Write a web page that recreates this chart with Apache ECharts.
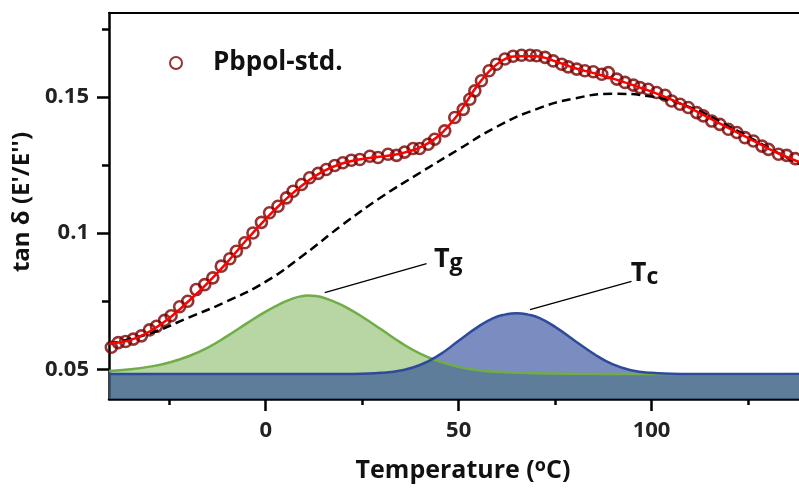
<!DOCTYPE html>
<html>
<head>
<meta charset="utf-8">
<script src="https://cdn.jsdelivr.net/npm/echarts@6/dist/echarts.min.js"></script>
<style>
  html, body { margin: 0; padding: 0; background: #fff; }
  #chart { width: 799px; height: 489px; }
</style>
</head>
<body>
<div id="chart"></div>
<script>
// measured points (tan delta vs temperature)
var scatterT = [-40.0, -38.2, -36.3, -34.3, -32.2, -30.1, -28.3, -26.2, -24.5, -22.3, -20.2, -18.0, -15.8, -13.7, -11.5, -9.3, -7.6, -5.4, -3.3, -1.1,
  1.0, 3.2, 5.4, 7.1, 9.3, 11.4, 13.6, 15.7, 17.9, 20.0, 22.2, 24.4, 27.0, 29.1, 31.7, 33.9, 36.0, 38.2, 39.9, 42.1,
  43.8, 46.4, 49.0, 51.2, 52.9, 54.2, 55.9, 57.9, 59.8, 62.0, 64.1, 66.3, 68.5, 70.2, 72.4, 74.5, 76.7, 78.4, 80.6, 82.7,
  84.9, 87.1, 88.8, 91.0, 93.1, 95.3, 97.0, 99.1, 101.3, 103.5, 105.2, 107.4, 109.5, 111.7, 113.4, 115.6, 117.7, 119.9, 122.1, 124.2,
  126.4, 128.6, 130.3, 132.9, 135.0, 137.2];
var scatterTan = [0.0581, 0.0598, 0.0602, 0.0611, 0.0623, 0.0645, 0.0658, 0.0680, 0.0697, 0.0730, 0.0750, 0.0793, 0.0811, 0.0836, 0.0879, 0.0906, 0.0934, 0.0965, 0.1001, 0.1040,
  0.1075, 0.1099, 0.1130, 0.1154, 0.1179, 0.1204, 0.1220, 0.1234, 0.1249, 0.1259, 0.1268, 0.1271, 0.1283, 0.1278, 0.1290, 0.1286, 0.1298, 0.1311, 0.1311, 0.1327,
  0.1345, 0.1376, 0.1425, 0.1455, 0.1492, 0.1523, 0.1560, 0.1597, 0.1621, 0.1640, 0.1650, 0.1654, 0.1654, 0.1652, 0.1646, 0.1633, 0.1621, 0.1611, 0.1603, 0.1597,
  0.1593, 0.1584, 0.1590, 0.1566, 0.1554, 0.1544, 0.1535, 0.1529, 0.1517, 0.1507, 0.1486, 0.1474, 0.1462, 0.1443, 0.1431, 0.1412, 0.1400, 0.1382, 0.1370, 0.1351,
  0.1339, 0.1320, 0.1308, 0.1290, 0.1286, 0.1274];

// fit curve
var fitT = [-40.6, -35, -30, -25, -20, -15, -10, -5, 0, 5, 10, 15, 20, 25, 30, 35, 40, 45, 50, 55, 60, 65, 70, 75, 80, 85, 90, 95, 100, 105, 110, 115, 120, 125, 130, 135, 138.2];
var fitTan = [0.0594, 0.0608, 0.0640, 0.0688, 0.0750, 0.0818, 0.0893, 0.0975, 0.1052, 0.1122, 0.1182, 0.1228, 0.1257, 0.1273, 0.1282, 0.1293, 0.1315, 0.1360, 0.1440, 0.1545,
  0.1622, 0.1650, 0.1650, 0.1632, 0.1607, 0.1588, 0.1568, 0.1545, 0.1520, 0.1492, 0.1460, 0.1423, 0.1386, 0.1350, 0.1313, 0.1280, 0.1262];

// broad background component (dashed)
var baseT = [-40.6, -30, -20, -10, 0, 10, 20, 30, 40, 50, 60, 70, 80, 90, 100, 110, 120, 130, 138.2];
var baseTan = [0.0594, 0.0632, 0.0690, 0.0750, 0.0822, 0.0922, 0.1032, 0.1133, 0.1222, 0.1308, 0.1392, 0.1455, 0.1495, 0.1512, 0.1502, 0.1462, 0.1393, 0.1316, 0.1254];

// Tg peak
var tgT = [-40.6, -35, -30, -25, -20, -15, -10, -5, 0, 4, 7, 9, 11, 13, 15, 18, 21, 25, 30, 35, 40, 45, 50, 55, 60, 70, 80, 100, 138.2];
var tgTan = [0.0494, 0.0500, 0.0510, 0.0525, 0.0548, 0.0580, 0.0622, 0.0668, 0.0712, 0.0742, 0.0760, 0.0768, 0.0771, 0.0769, 0.0763, 0.0747, 0.0727, 0.0693, 0.0646, 0.0598,
  0.0558, 0.0529, 0.0509, 0.0497, 0.0491, 0.0486, 0.0484, 0.0483, 0.0482];

// Tc peak
var tcT = [-40.6, 20, 25, 30, 35, 40, 45, 50, 55, 59, 62, 65, 68, 71, 75, 80, 85, 90, 95, 100, 105, 110, 138.2];
var tcTan = [0.0483, 0.0483, 0.0484, 0.0487, 0.0496, 0.0516, 0.0553, 0.0605, 0.0656, 0.0688, 0.0701, 0.0706, 0.0701, 0.0688, 0.0656, 0.0606, 0.0557, 0.0518, 0.0496, 0.0487,
  0.0484, 0.0483, 0.0483];

// axis ticks
var xLabels = [0, 50, 100];
var xMinor = [-25, 25, 75, 125];
var yLabels = [0.05, 0.1, 0.15];
var yMinor = [0.075, 0.125, 0.175];

// annotation pointers [from, to] and label anchors
var tgPointer = [[15.3, 0.0782], [41.7, 0.0888]];
var tcPointer = [[68.5, 0.0719], [94.8, 0.0823]];
var tgLabelAt = [43.6, 0.0905];
var tcLabelAt = [94.6, 0.0852];

function pairs(xs, ys) {
  return xs.map(function (x, i) { return [x, ys[i]]; });
}

var FONT = 'Open Sans';
var labelRich = {
  t: { fontFamily: FONT, fontWeight: 'bold', fontSize: 27, color: '#111' },
  s: { fontFamily: FONT, fontWeight: 'bold', fontSize: 23, color: '#111', padding: [8, 0, 0, 0] }
};

var option = {
  animation: false,
  backgroundColor: '#fff',
  grid: { left: 109, right: 0, top: 13, bottom: 90, containLabel: false, outerBoundsMode: 'none' },
  legend: {
    left: 164, top: 45,
    itemWidth: 12, itemHeight: 12,
    data: ['Pbpol-std.'],
    textStyle: { fontFamily: FONT, fontWeight: 'bold', fontSize: 26, color: '#111', padding: [0, 0, 0, 26] }
  },
  // x axis title
  graphic: [{
    type: 'text', x: 463, y: 471, silent: true,
    style: {
      text: 'Temperature ({o|o}C)', align: 'center', verticalAlign: 'middle',
      fontFamily: FONT, fontWeight: 'bold', fontSize: 25, fill: '#111',
      rich: { o: { fontFamily: FONT, fontWeight: 'bold', fontSize: 18, fill: '#111', padding: [0, 0, 10, 0] } }
    }
  }],
  xAxis: [
    {
      type: 'value', position: 'bottom', min: -40.6, max: 138.2,
      axisLine: { show: true, onZero: false, lineStyle: { color: '#000', width: 2.5 } },
      axisTick: { show: true, customValues: xLabels, length: 12, lineStyle: { color: '#000', width: 2.5 } },
      axisLabel: { customValues: xLabels, margin: 21, fontFamily: FONT, fontWeight: 'bold', fontSize: 22, color: '#222' },
      splitLine: { show: false }
    },
    {
      type: 'value', position: 'bottom', min: -40.6, max: 138.2,
      axisLine: { show: false, onZero: false },
      axisTick: { show: true, customValues: xMinor, length: 6, lineStyle: { color: '#000', width: 2.5 } },
      axisLabel: { show: false },
      splitLine: { show: false }
    },
    {
      type: 'value', position: 'top', min: -40.6, max: 138.2,
      axisLine: { show: true, onZero: false, lineStyle: { color: '#000', width: 2 } },
      axisTick: { show: false }, axisLabel: { show: false }, splitLine: { show: false }
    }
  ],
  yAxis: [
    {
      type: 'value', position: 'left', min: 0.0391, max: 0.1809,
      name: "tan δ (E'/E'')", nameLocation: 'middle', nameGap: 69, nameRotate: 90,
      nameTextStyle: { fontFamily: FONT, fontWeight: 'bold', fontSize: 24, color: '#111', padding: [0, 0, 0, 8] },
      axisLine: { show: true, onZero: false, lineStyle: { color: '#000', width: 2.5 } },
      axisTick: { show: true, customValues: yLabels, length: 12, lineStyle: { color: '#000', width: 2.5 } },
      axisLabel: { customValues: yLabels, margin: 20, fontFamily: FONT, fontWeight: 'bold', fontSize: 22, color: '#222' },
      splitLine: { show: false }
    },
    {
      type: 'value', position: 'left', min: 0.0391, max: 0.1809,
      axisLine: { show: false, onZero: false },
      axisTick: { show: true, customValues: yMinor, length: 7, lineStyle: { color: '#000', width: 2.5 } },
      axisLabel: { show: false },
      splitLine: { show: false }
    }
  ],
  series: [
    {
      name: 'Tg', type: 'line', data: pairs(tgT, tgTan), smooth: 0.5, symbol: 'none',
      lineStyle: { color: '#70ad47', width: 2.5 },
      areaStyle: { origin: 'start', color: 'rgba(112,173,71,0.5)', opacity: 1 },
      markLine: {
        silent: true, symbol: 'none', label: { show: false },
        lineStyle: { color: '#000', width: 1.3, type: 'solid' },
        data: [[{ coord: tgPointer[0] }, { coord: tgPointer[1] }]]
      },
      markPoint: {
        silent: true, symbol: 'circle', symbolSize: 0,
        label: { show: true, position: 'right', distance: 0, formatter: '{t|T}{s|g}', rich: labelRich },
        data: [{ coord: tgLabelAt }]
      }
    },
    {
      name: 'Tc', type: 'line', data: pairs(tcT, tcTan), smooth: 0.5, symbol: 'none',
      lineStyle: { color: '#2e4a9a', width: 2.5 },
      areaStyle: { origin: 'start', color: 'rgba(35,65,150,0.6)', opacity: 1 },
      markLine: {
        silent: true, symbol: 'none', label: { show: false },
        lineStyle: { color: '#000', width: 1.3, type: 'solid' },
        data: [[{ coord: tcPointer[0] }, { coord: tcPointer[1] }]]
      },
      markPoint: {
        silent: true, symbol: 'circle', symbolSize: 0,
        label: { show: true, position: 'right', distance: 0, formatter: '{t|T}{s|c}', rich: labelRich },
        data: [{ coord: tcLabelAt }]
      }
    },
    {
      name: 'background', type: 'line', data: pairs(baseT, baseTan), smooth: 0.5, symbol: 'none',
      lineStyle: { color: '#000', width: 2.5, type: [9, 5] }
    },
    {
      name: 'Pbpol-std.', type: 'scatter', data: pairs(scatterT, scatterTan),
      symbol: 'circle', symbolSize: 11,
      itemStyle: { color: 'rgba(0,0,0,0)', borderColor: '#7a0000', borderWidth: 2.6 }
    },
    {
      name: 'fit', type: 'line', data: pairs(fitT, fitTan), smooth: 0.4, symbol: 'none',
      lineStyle: { color: '#ff0000', width: 2.5 }
    }
  ]
};

var myChart = echarts.init(document.getElementById('chart'));
myChart.setOption(option);
</script>
</body>
</html>
